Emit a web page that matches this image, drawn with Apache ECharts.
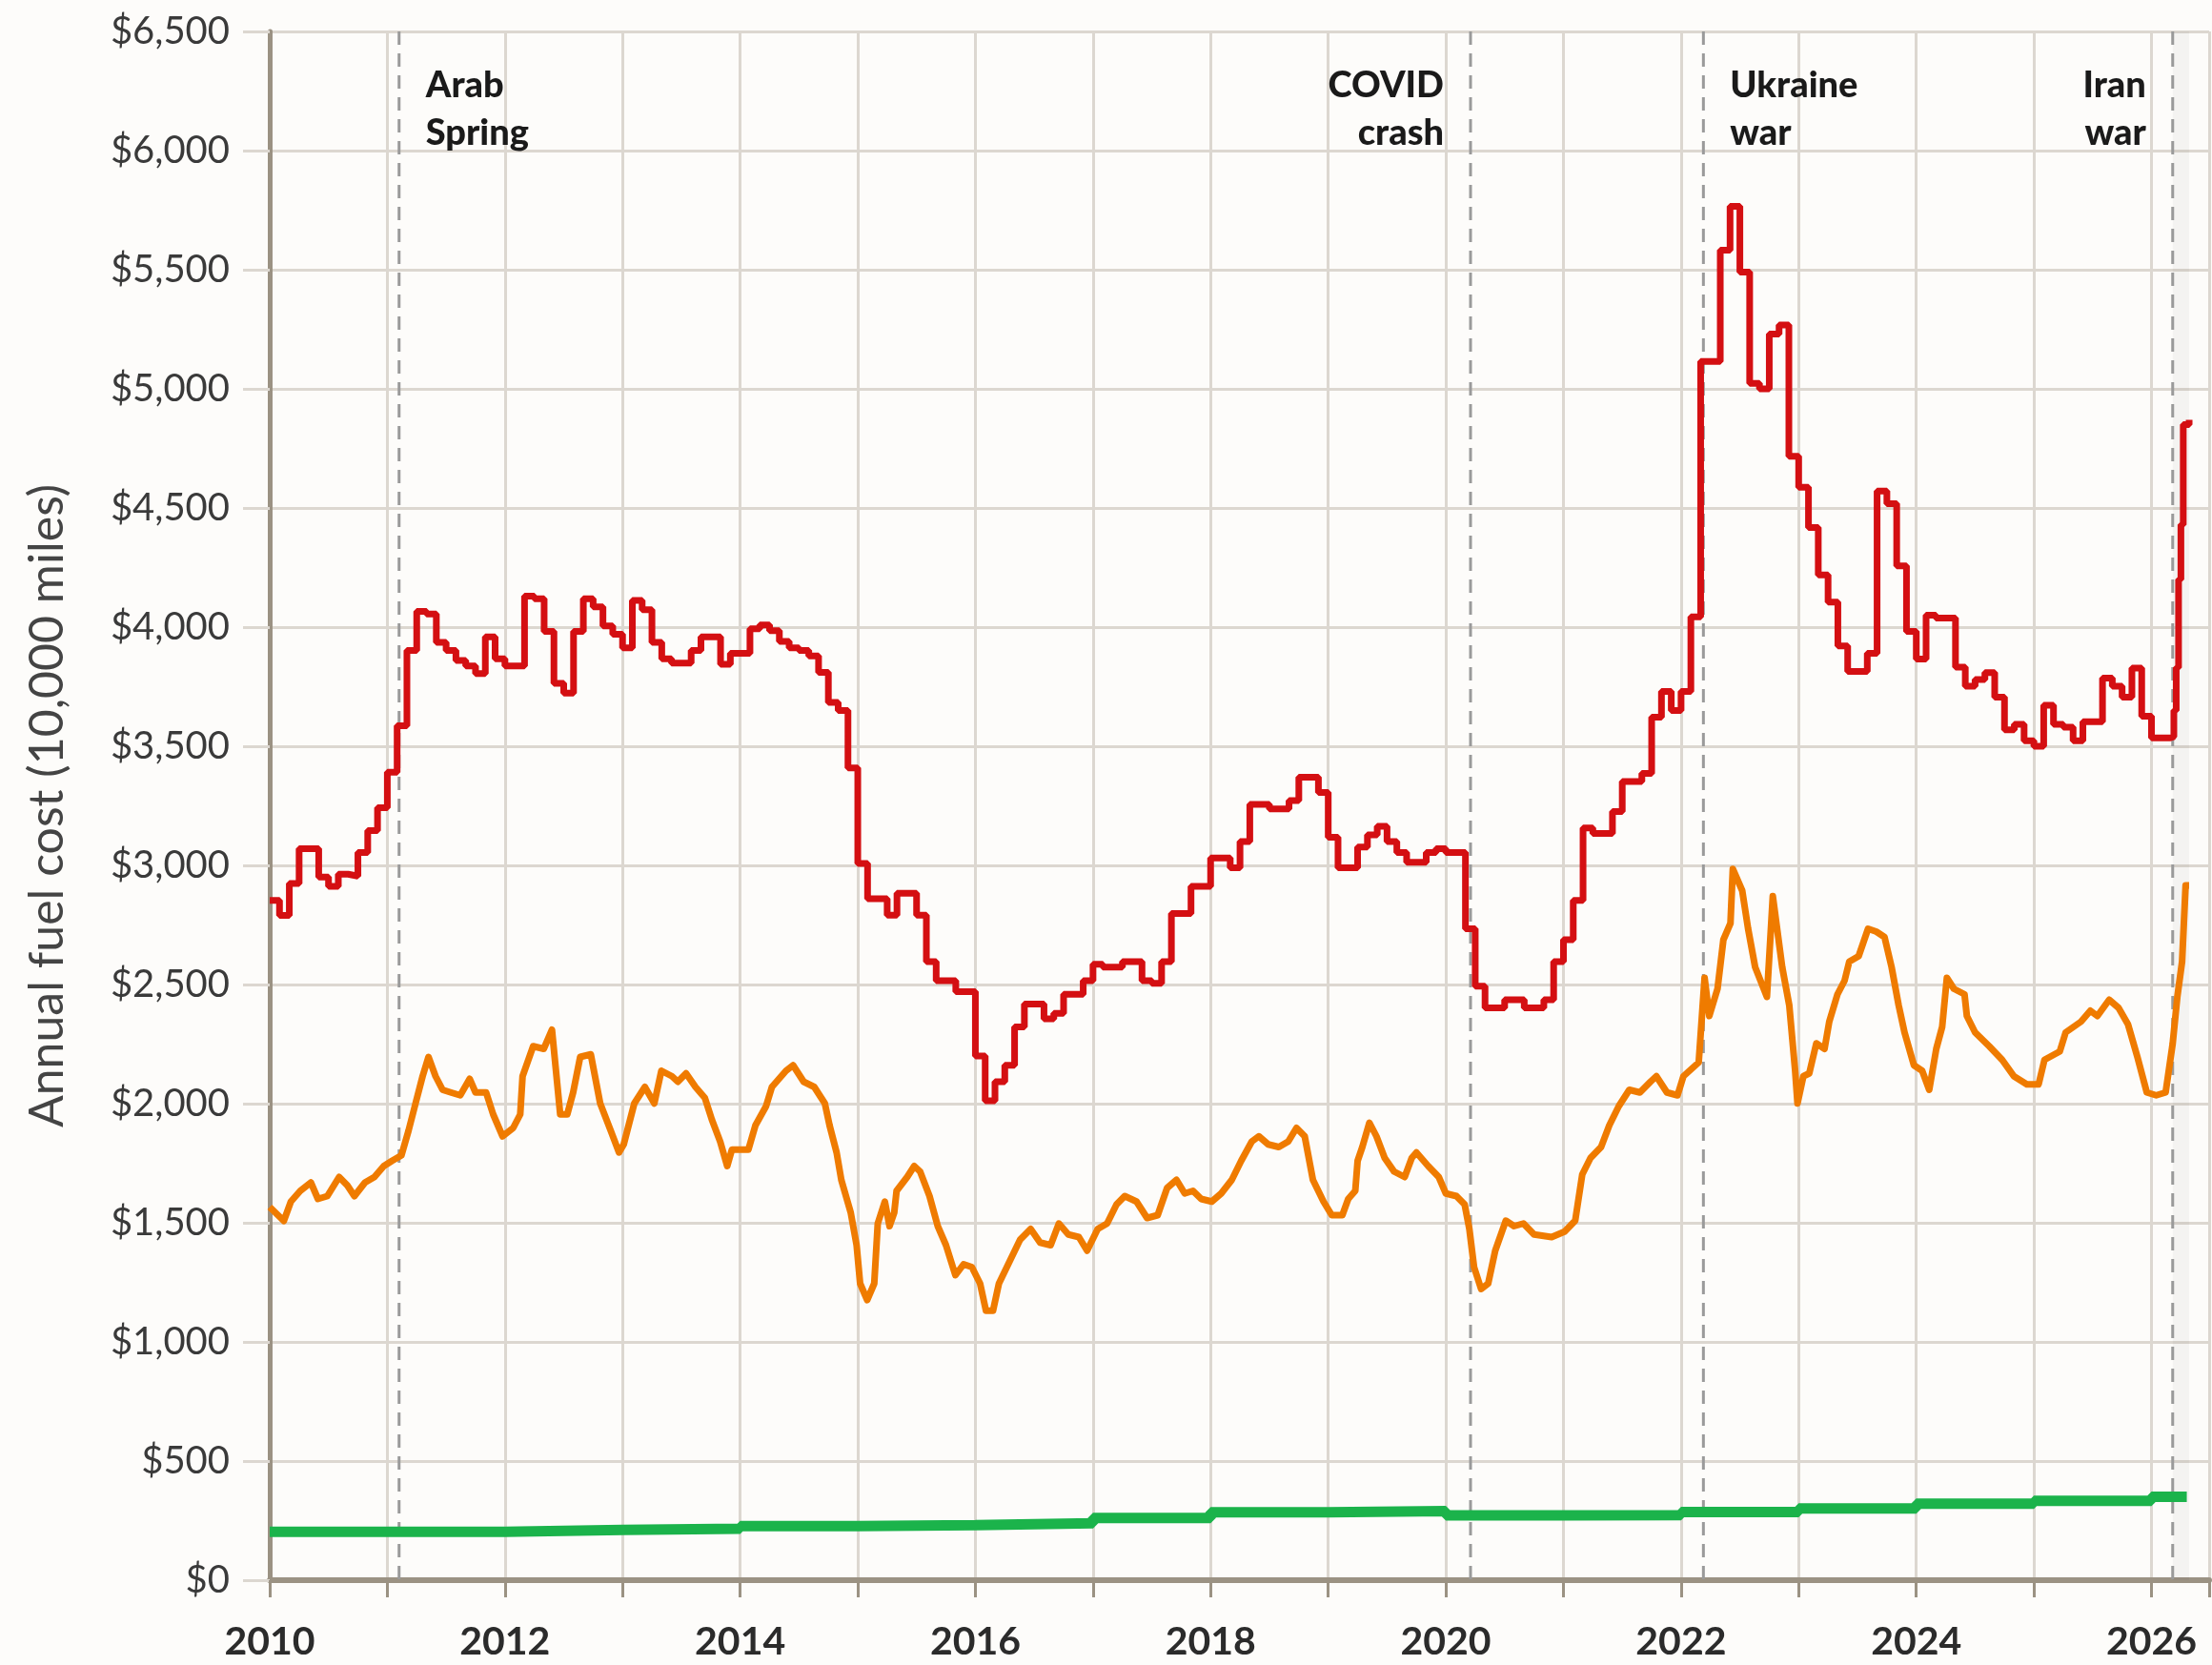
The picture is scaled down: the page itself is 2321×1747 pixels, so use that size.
<!DOCTYPE html>
<html>
<head>
<meta charset="utf-8">
<title>Annual fuel cost</title>
<script src="https://cdn.jsdelivr.net/npm/echarts@6/dist/echarts.min.js"></script>
<style>
  html, body { margin: 0; padding: 0; background: #fdfcfa; }
  #chart { width: 2321px; height: 1747px; }
</style>
</head>
<body>
<div id="chart"></div>
<script>
// red: monthly values, Jan 2010 .. Feb 2026
const redStart = 2010
const redMonthly = [
  2853, 2790, 2924, 3070, 3070, 2951, 2912, 2963, 2955, 3054, 3146, 3242,
  3391, 3586, 3902, 4066, 4055, 3936, 3902, 3860, 3837, 3805, 3959, 3867,
  3837, 3837, 4130, 4119, 3982, 3764, 3723, 3982, 4119, 4085, 4005, 3970,
  3913, 4112, 4073, 3936, 3867, 3849, 3849, 3902, 3959, 3959, 3844, 3890,
  3890, 3993, 4009, 3985, 3940, 3913, 3902, 3879, 3810, 3684, 3650, 3409,
  3008, 2860, 2860, 2791, 2883, 2883, 2791, 2596, 2516, 2516, 2470, 2470,
  2200, 2012, 2092, 2161, 2322, 2418, 2418, 2356, 2379, 2459, 2459, 2516,
  2585, 2573, 2573, 2596, 2596, 2516, 2505, 2596, 2798, 2798, 2912, 2912,
  3031, 3031, 2990, 3100, 3256, 3256, 3237, 3237, 3272, 3370, 3370, 3306,
  3118, 2990, 2990, 3077, 3128, 3164, 3100, 3054, 3013, 3013, 3054, 3070,
  3054, 3054, 2734, 2493, 2402, 2402, 2436, 2436, 2402, 2402, 2436, 2596,
  2688, 2853, 3157, 3134, 3134, 3226, 3352, 3352, 3386, 3622, 3730, 3650,
  3730, 4043, 5115, 5115, 5582, 5766, 5490, 5023, 5000, 5230, 5268, 4717,
  4587, 4418, 4219, 4105, 3921, 3814, 3814, 3890, 4571, 4518, 4257, 3982,
  3866, 4050, 4038, 4038, 3832, 3752, 3780, 3809, 3706, 3569, 3592, 3523,
  3500, 3672, 3592, 3580, 3523, 3603, 3603, 3786, 3752, 3706, 3828, 3626,
  3535, 3535
]
// weekly tail of the red line, March 2026
const redTailYears = [2026.16, 2026.19, 2026.21, 2026.23, 2026.25, 2026.27, 2026.32]
const redTailValues = [3540, 3650, 3830, 4200, 4430, 4850, 4870]

const orangeYears = [
  2010.00, 2010.12, 2010.18, 2010.26, 2010.35, 2010.41, 2010.49, 2010.59, 2010.66, 2010.72, 2010.81, 2010.89, 2010.97,
  2011.04, 2011.12, 2011.18, 2011.24, 2011.30, 2011.35, 2011.41, 2011.47, 2011.54, 2011.62, 2011.70, 2011.75, 2011.84, 2011.90, 2011.98,
  2012.07, 2012.13, 2012.15, 2012.24, 2012.33, 2012.40, 2012.47, 2012.53, 2012.58, 2012.64, 2012.73, 2012.81, 2012.90, 2012.97,
  2013.01, 2013.10, 2013.19, 2013.27, 2013.33, 2013.42, 2013.47, 2013.54, 2013.62, 2013.70, 2013.76, 2013.83, 2013.89, 2013.93,
  2014.07, 2014.13, 2014.22, 2014.27, 2014.39, 2014.45, 2014.54, 2014.63, 2014.72, 2014.76, 2014.82, 2014.86, 2014.94, 2014.99,
  2015.02, 2015.08, 2015.14, 2015.17, 2015.23, 2015.27, 2015.31, 2015.33, 2015.42, 2015.48, 2015.53, 2015.61, 2015.68, 2015.75, 2015.83, 2015.90, 2015.97,
  2016.04, 2016.09, 2016.15, 2016.20, 2016.29, 2016.38, 2016.47, 2016.55, 2016.64, 2016.71, 2016.79, 2016.88, 2016.95,
  2017.04, 2017.12, 2017.20, 2017.27, 2017.37, 2017.46, 2017.55, 2017.63, 2017.71, 2017.78, 2017.85, 2017.92,
  2018.01, 2018.09, 2018.18, 2018.26, 2018.35, 2018.41, 2018.49, 2018.58, 2018.66, 2018.73, 2018.80, 2018.87, 2018.96,
  2019.03, 2019.12, 2019.17, 2019.23, 2019.25, 2019.29, 2019.35, 2019.41, 2019.48, 2019.56, 2019.65, 2019.71, 2019.75, 2019.85, 2019.94,
  2020.00, 2020.09, 2020.16, 2020.20, 2020.24, 2020.30, 2020.36, 2020.42, 2020.51, 2020.58, 2020.66, 2020.75, 2020.90,
  2021.01, 2021.10, 2021.16, 2021.23, 2021.32, 2021.39, 2021.47, 2021.56, 2021.65, 2021.74, 2021.79, 2021.88, 2021.97,
  2022.02, 2022.15, 2022.20, 2022.24, 2022.31, 2022.36, 2022.42, 2022.44, 2022.52, 2022.57, 2022.63, 2022.73, 2022.78, 2022.86, 2022.92, 2022.97, 2022.99,
  2023.04, 2023.09, 2023.15, 2023.22, 2023.26, 2023.33, 2023.39, 2023.43, 2023.51, 2023.59, 2023.66, 2023.73, 2023.79, 2023.85, 2023.90, 2023.98,
  2024.05, 2024.11, 2024.17, 2024.22, 2024.26, 2024.32, 2024.41, 2024.43, 2024.50, 2024.62, 2024.73, 2024.83, 2024.94,
  2025.04, 2025.09, 2025.22, 2025.27, 2025.40, 2025.48, 2025.54, 2025.64, 2025.72, 2025.80, 2025.88, 2025.96,
  2026.04, 2026.12, 2026.18, 2026.22, 2026.26, 2026.29, 2026.32
]
const orangeValues = [
  1566, 1508, 1589, 1634, 1669, 1600, 1612, 1692, 1657, 1612, 1669, 1692, 1738,
  1760, 1783, 1886, 2001, 2115, 2196, 2115, 2058, 2047, 2035, 2104, 2047, 2047, 1955, 1863,
  1898, 1955, 2115, 2241, 2230, 2310, 1955, 1955, 2047, 2196, 2207, 2001, 1886, 1795,
  1829, 2001, 2070, 2001, 2138, 2115, 2092, 2127, 2070, 2024, 1932, 1841, 1738, 1807,
  1807, 1909, 1989, 2070, 2138, 2161, 2092, 2070, 2001, 1909, 1795, 1680, 1543, 1406,
  1245, 1176, 1245, 1497, 1589, 1486, 1543, 1634, 1692, 1738, 1715, 1612, 1486, 1406, 1280, 1326, 1314,
  1245, 1131, 1131, 1245, 1337, 1429, 1474, 1417, 1406, 1497, 1451, 1440, 1383,
  1474, 1497, 1577, 1612, 1589, 1520, 1532, 1646, 1680, 1623, 1634, 1600,
  1589, 1623, 1680, 1760, 1841, 1863, 1829, 1818, 1841, 1898, 1863, 1680, 1589,
  1532, 1532, 1600, 1634, 1760, 1818, 1920, 1863, 1772, 1715, 1692, 1772, 1795, 1738, 1692,
  1623, 1612, 1577, 1474, 1314, 1222, 1245, 1383, 1509, 1486, 1497, 1451, 1440,
  1463, 1509, 1703, 1772, 1818, 1909, 1989, 2058, 2047, 2092, 2115, 2047, 2035,
  2115, 2173, 2528, 2368, 2482, 2688, 2757, 2985, 2894, 2734, 2573, 2448, 2871, 2573, 2413, 2138, 2001,
  2115, 2127, 2253, 2230, 2344, 2459, 2516, 2596, 2619, 2734, 2722, 2699, 2573, 2413, 2299, 2161,
  2138, 2058, 2230, 2322, 2528, 2482, 2459, 2368, 2299, 2241, 2184, 2115, 2081,
  2081, 2184, 2219, 2299, 2344, 2390, 2368, 2436, 2402, 2333, 2196, 2047,
  2035, 2047, 2252, 2450, 2596, 2916, 2916
]

// green: yearly steps
const greenYears = [2010, 2012, 2013, 2014, 2015, 2016, 2017, 2018, 2019, 2020, 2021, 2022, 2023, 2024, 2025, 2026, 2026.30]
const greenValues = [203, 211, 216, 227, 231, 239, 261, 285, 290, 272, 273, 286, 301, 321, 333, 350, 350]

// events (dashed lines)
const eventYears = [2011.10, 2020.21, 2022.19, 2026.18]
const eventLabels = ['Arab\nSpring', 'COVID\ncrash', 'Ukraine\nwar', 'Iran\nwar']
const eventSide = ['right', 'left', 'right', 'left']

const yTicks = { min: 0, max: 6500, interval: 500 }
const xRange = { min: 2010, max: 2026.49 }

const font = 'Lato, "Open Sans", sans-serif'
const redData = redMonthly.map((v, i) => [redStart + i / 12, v])
  .concat(redTailYears.map((x, i) => [x, redTailValues[i]]))
const orangeData = orangeYears.map((x, i) => [x, orangeValues[i]])
const greenData = greenYears.map((x, i) => [x, greenValues[i]])

const myChart = echarts.init(document.getElementById('chart'))
const option = {
  backgroundColor: '#fdfcfa',
  animation: false,
  grid: { left: 283, right: 0, top: 33, bottom: 89 },
  xAxis: {
    type: 'value',
    min: xRange.min,
    max: xRange.max,
    interval: 1,
    axisLine: { show: true, lineStyle: { color: '#9b9283', width: 6 } },
    axisTick: { show: true, length: 18, lineStyle: { color: '#9b9283', width: 3 } },
    axisLabel: {
      margin: 44,
      color: '#2b2b2b',
      fontFamily: font,
      fontWeight: 'bold',
      fontSize: 41,
      formatter: function (v) {
        return (Number.isInteger(v) && v % 2 === 0) ? String(v) : ''
      }
    },
    splitLine: { show: true, lineStyle: { color: '#dcd7d0', width: 3 } }
  },
  yAxis: {
    type: 'value',
    min: yTicks.min,
    max: yTicks.max,
    interval: yTicks.interval,
    name: 'Annual fuel cost (10,000 miles)',
    nameLocation: 'middle',
    nameGap: 208,
    nameTextStyle: { color: '#444', fontFamily: font, fontSize: 50 },
    axisLine: { show: true, lineStyle: { color: '#9b9283', width: 5 } },
    axisTick: { show: true, length: 28, lineStyle: { color: '#dcd7d0', width: 3 } },
    axisLabel: {
      margin: 42,
      color: '#3a3a3a',
      fontFamily: font,
      fontSize: 40,
      formatter: function (v) {
        return '$' + v.toLocaleString('en-US')
      }
    },
    splitLine: { show: true, lineStyle: { color: '#dcd7d0', width: 3 } }
  },
  series: [
    {
      type: 'custom',
      name: 'events',
      silent: true,
      z: 1,
      data: eventYears.map(x => [x, 0]),
      renderItem: function (params, api) {
        const i = params.dataIndex
        const x = api.value(0)
        const top = api.coord([x, yTicks.max])
        const bottom = api.coord([x, yTicks.min])
        const left = eventSide[i] === 'left'
        return {
          type: 'group',
          children: [
            {
              type: 'line',
              shape: { x1: top[0], y1: top[1], x2: bottom[0], y2: bottom[1] },
              style: { stroke: '#9a9a9a', lineWidth: 3, lineDash: [14, 9] }
            },
            {
              type: 'text',
              x: top[0] + (left ? -28 : 28),
              y: top[1] + 32,
              style: {
                text: eventLabels[i],
                fill: '#1a1a1a',
                font: '900 38px ' + font,
                lineHeight: 50,
                align: left ? 'right' : 'left',
                verticalAlign: 'top'
              }
            }
          ]
        }
      }
    },
    {
      type: 'line',
      name: 'green',
      step: 'end',
      showSymbol: false,
      z: 3,
      lineStyle: { color: '#1bb34b', width: 11 },
      itemStyle: { color: '#1bb34b' },
      data: greenData
    },
    {
      type: 'line',
      name: 'orange',
      showSymbol: false,
      z: 4,
      lineStyle: { color: '#ef7b00', width: 7, join: 'round' },
      itemStyle: { color: '#ef7b00' },
      data: orangeData
    },
    {
      type: 'line',
      name: 'red',
      step: 'end',
      showSymbol: false,
      z: 5,
      lineStyle: { color: '#d40f12', width: 7 },
      itemStyle: { color: '#d40f12' },
      markArea: {
        silent: true,
        itemStyle: { color: 'rgba(0,0,0,0.035)' },
        data: [[{ xAxis: eventYears[3] }, { xAxis: 2026.32 }]]
      },
      data: redData
    }
  ]
}
myChart.setOption(option)
</script>
</body>
</html>
